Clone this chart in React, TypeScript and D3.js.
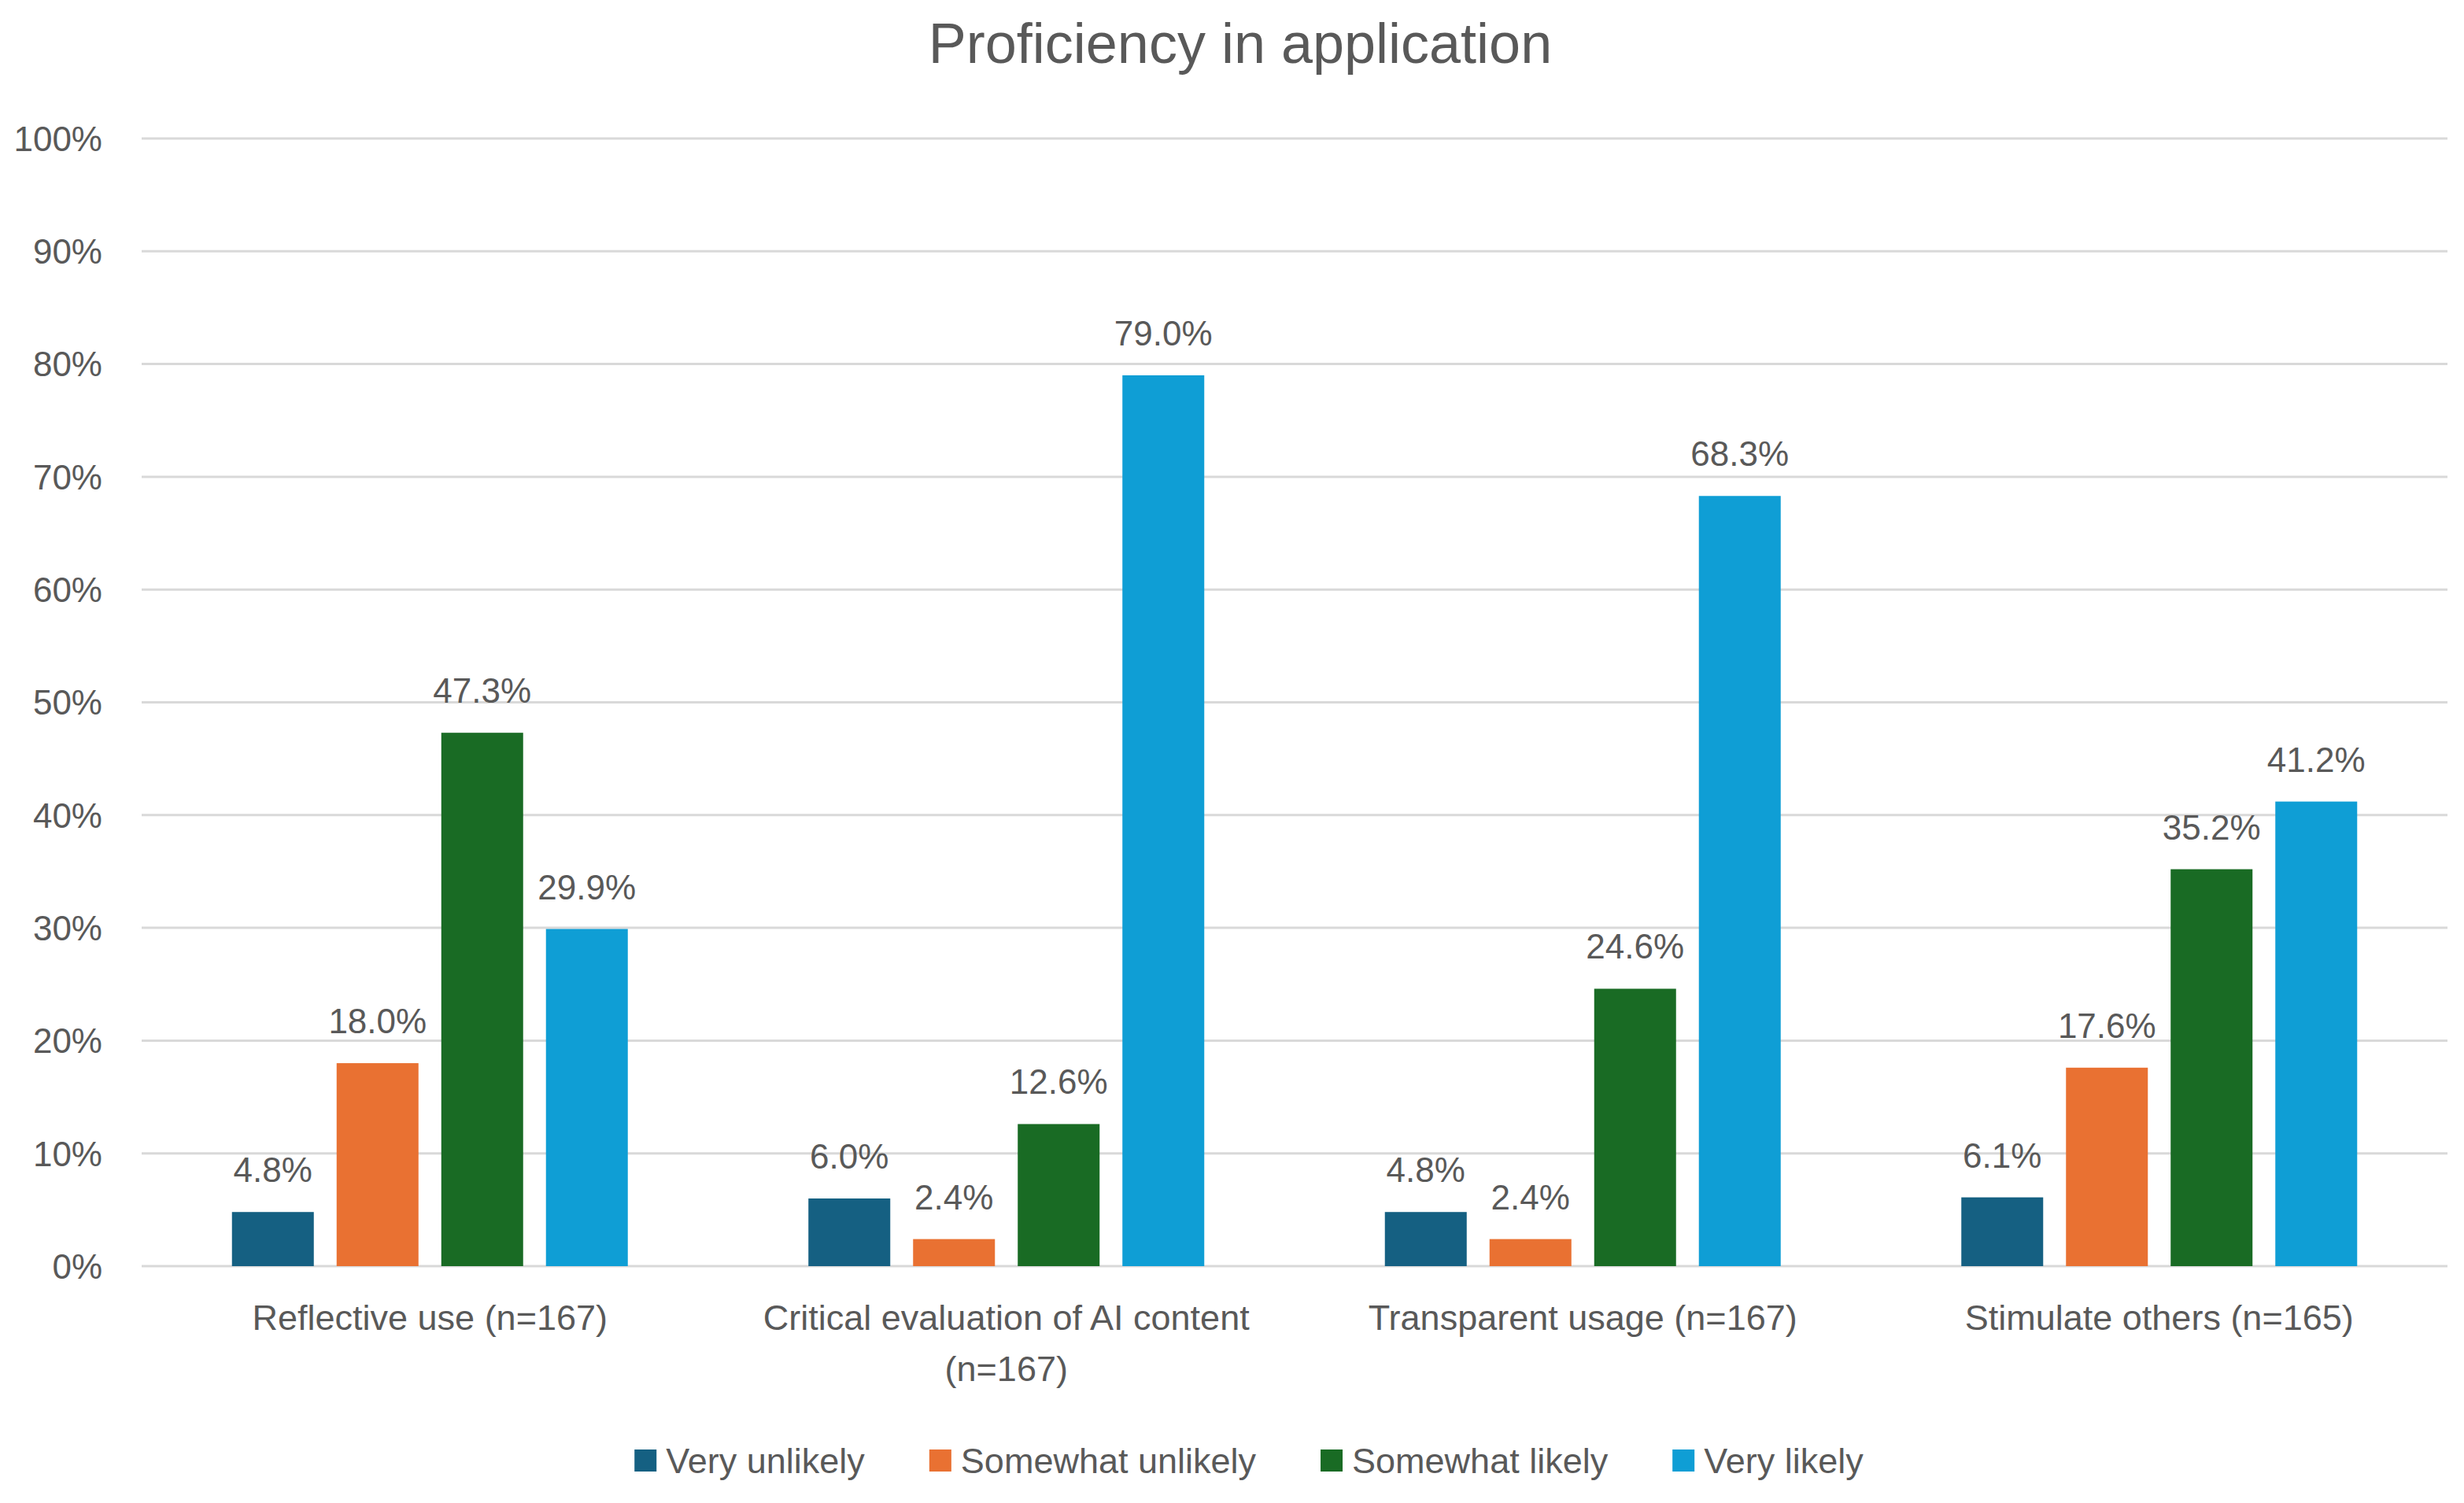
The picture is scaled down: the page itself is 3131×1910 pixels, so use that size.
import { useEffect, useRef } from 'react';
import * as d3 from 'd3';

const categories = [
  'Reflective use (n=167)',
  'Critical evaluation of AI content (n=167)',
  'Transparent usage (n=167)',
  'Stimulate others (n=165)',
];
const seriesNames = ['Very unlikely', 'Somewhat unlikely', 'Somewhat likely', 'Very likely'];
const veryUnlikely = [4.8, 6.0, 4.8, 6.1];
const somewhatUnlikely = [18.0, 2.4, 2.4, 17.6];
const somewhatLikely = [47.3, 12.6, 24.6, 35.2];
const veryLikely = [29.9, 79.0, 68.3, 41.2];
const yTicks = [0, 10, 20, 30, 40, 50, 60, 70, 80, 90, 100];
const colors = ['#156082', '#E97132', '#196B24', '#0F9ED5'];

const W = 3131;
const H = 1910;
const FONT = '"Liberation Sans", Arial, sans-serif';
const TEXT = '#595959';

export default function App() {
  const svgRef = useRef<SVGSVGElement>(null);

  useEffect(() => {
    if (!svgRef.current) return;
    const svg = d3.select(svgRef.current);
    svg.selectAll('*').remove();

    const left = 180;
    const right = 3110;
    const top = 176;
    const bottom = 1609;

    const values = [veryUnlikely, somewhatUnlikely, somewhatLikely, veryLikely];
    const rows = categories.map((c, i) => ({
      category: c,
      vals: seriesNames.map((s, j) => ({ series: s, value: values[j][i] })),
    }));

    const x0 = d3.scaleBand().domain(categories).range([left, right]).padding(0);
    const groupWidth = 503;
    const x1 = d3
      .scaleBand()
      .domain(seriesNames)
      .range([-groupWidth / 2, groupWidth / 2])
      .paddingInner(0.218)
      .paddingOuter(0);
    const y = d3.scaleLinear().domain([0, 100]).range([bottom, top]);
    const color = d3.scaleOrdinal<string>().domain(seriesNames).range(colors);

    // Title
    svg
      .append('text')
      .attr('x', 1576)
      .attr('y', 80)
      .attr('text-anchor', 'middle')
      .style('font-family', FONT)
      .style('font-size', '72px')
      .style('fill', TEXT)
      .text('Proficiency in application');

    // Gridlines + y labels
    const grid = svg.append('g');
    yTicks.forEach((t) => {
      grid
        .append('line')
        .attr('x1', left)
        .attr('x2', right)
        .attr('y1', y(t))
        .attr('y2', y(t))
        .attr('stroke', '#D9D9D9')
        .attr('stroke-width', 3);
      grid
        .append('text')
        .attr('x', 130)
        .attr('y', y(t))
        .attr('dy', '0.36em')
        .attr('text-anchor', 'end')
        .style('font-family', FONT)
        .style('font-size', '44px')
        .style('fill', TEXT)
        .text(`${t}%`);
    });

    // Bars
    const groups = svg
      .selectAll('.group')
      .data(rows)
      .join('g')
      .attr('class', 'group')
      .attr('transform', (d) => `translate(${(x0(d.category) || 0) + x0.bandwidth() / 2},0)`);

    groups
      .selectAll('rect')
      .data((d) => d.vals)
      .join('rect')
      .attr('x', (d) => x1(d.series) || 0)
      .attr('width', x1.bandwidth())
      .attr('y', (d) => y(d.value))
      .attr('height', (d) => y(0) - y(d.value))
      .attr('fill', (d) => color(d.series));

    groups
      .selectAll('text.val')
      .data((d) => d.vals)
      .join('text')
      .attr('class', 'val')
      .attr('x', (d) => (x1(d.series) || 0) + x1.bandwidth() / 2)
      .attr('y', (d) => y(d.value) - 38)
      .attr('text-anchor', 'middle')
      .style('font-family', FONT)
      .style('font-size', '44px')
      .style('fill', TEXT)
      .text((d) => `${d.value.toFixed(1)}%`);

    // Category labels (wrapped)
    const maxW = x0.bandwidth() - 40;
    categories.forEach((c) => {
      const cx = (x0(c) || 0) + x0.bandwidth() / 2;
      const t = svg
        .append('text')
        .attr('x', cx)
        .attr('y', 1690)
        .attr('text-anchor', 'middle')
        .style('font-family', FONT)
        .style('font-size', '45px')
        .style('fill', TEXT);
      const words = c.split(' ');
      let line: string[] = [];
      let lineNo = 0;
      let tspan = t.append('tspan').attr('x', cx).attr('y', 1690);
      words.forEach((w) => {
        line.push(w);
        tspan.text(line.join(' '));
        const node = tspan.node() as SVGTSpanElement;
        if (node.getComputedTextLength() > maxW && line.length > 1) {
          line.pop();
          tspan.text(line.join(' '));
          line = [w];
          lineNo += 1;
          tspan = t
            .append('tspan')
            .attr('x', cx)
            .attr('y', 1690 + lineNo * 65)
            .text(w);
        }
      });
    });

    // Legend
    const legend = svg.append('g');
    const sq = 28;
    const gap = 82;
    let lx = 0;
    seriesNames.forEach((s) => {
      const item = legend.append('g').attr('transform', `translate(${lx},0)`);
      item
        .append('rect')
        .attr('x', 0)
        .attr('y', -sq / 2)
        .attr('width', sq)
        .attr('height', sq)
        .attr('fill', color(s));
      const txt = item
        .append('text')
        .attr('x', sq + 12)
        .attr('y', 0)
        .attr('dy', '0.36em')
        .style('font-family', FONT)
        .style('font-size', '45px')
        .style('fill', TEXT)
        .text(s);
      const tw = (txt.node() as SVGTextElement).getComputedTextLength();
      lx += sq + 12 + tw + gap;
    });
    const legendW = lx - gap;
    legend.attr('transform', `translate(${1587 - legendW / 2},1856)`);
  }, []);

  return (
    <svg
      ref={svgRef}
      width={W}
      height={H}
      style={{ position: 'absolute', left: 0, top: 0, background: '#fff' }}
    ></svg>
  );
}
